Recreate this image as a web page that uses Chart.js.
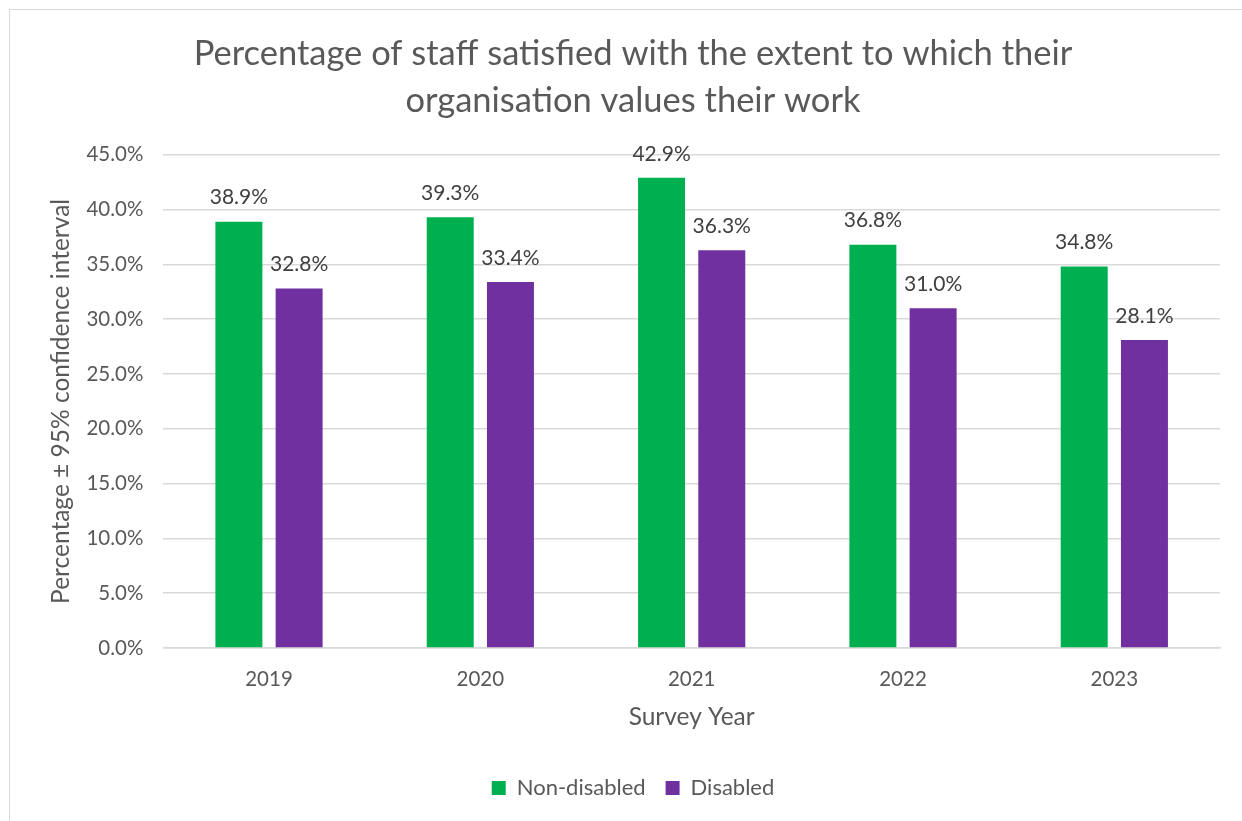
<!DOCTYPE html>
<html>
<head>
<meta charset="utf-8">
<script src="https://cdn.jsdelivr.net/npm/chart.js@4.4.0/dist/chart.umd.min.js"></script>
<style>
  html, body { margin: 0; padding: 0; background: #fff; overflow: hidden; }
  #wrap { position: absolute; left: 0; top: 0; width: 1242px; height: 821px; }
  #frame { position: absolute; left: 9px; top: 9px; width: 1300px; height: 900px;
           border: 1px solid #d9d9d9; pointer-events: none; }
</style>
</head>
<body>
<div id="wrap"><canvas id="chart" width="1242" height="821"></canvas></div>
<div id="frame"></div>
<script>
// survey years and satisfaction percentages
const years = ['2019', '2020', '2021', '2022', '2023'];
const nonDisabled = [38.9, 39.3, 42.9, 36.8, 34.8];
const disabled = [32.8, 33.4, 36.3, 31.0, 28.1];
const yTicks = [0, 5, 10, 15, 20, 25, 30, 35, 40, 45];

const FONT = 'Lato, "Open Sans", sans-serif';

// writes the value above each bar
const barLabels = {
  id: 'barLabels',
  afterDatasetsDraw(chart) {
    const ctx = chart.ctx;
    ctx.save();
    ctx.font = '21px ' + FONT;
    ctx.fillStyle = '#404040';
    ctx.textAlign = 'center';
    ctx.textBaseline = 'middle';
    chart.data.datasets.forEach((ds, i) => {
      chart.getDatasetMeta(i).data.forEach((bar, j) => {
        ctx.fillText(ds.data[j].toFixed(1) + '%', bar.x, bar.y - 24);
      });
    });
    ctx.restore();
  }
};

new Chart(document.getElementById('chart'), {
  type: 'bar',
  data: {
    labels: years,
    datasets: [
      { label: 'Non-disabled', data: nonDisabled, backgroundColor: '#00b050',
        categoryPercentage: 0.57, barPercentage: 0.78 },
      { label: 'Disabled', data: disabled, backgroundColor: '#7030a0',
        categoryPercentage: 0.57, barPercentage: 0.78 }
    ]
  },
  options: {
    responsive: false,
    animation: false,
    layout: { padding: { left: 46, right: 22, top: 24, bottom: 12 } },
    plugins: {
      title: {
        display: true,
        text: ['Percentage of staff satisfied with the extent to which their',
               'organisation values their work'],
        color: '#595959',
        font: { family: FONT, size: 34.5, weight: 'normal', lineHeight: 1.36 },
        padding: { top: 6, bottom: 31 }
      },
      legend: {
        position: 'bottom',
        labels: {
          color: '#595959',
          font: { family: FONT, size: 22 },
          boxWidth: 14, boxHeight: 14, padding: 20
        }
      },
      tooltip: { enabled: false }
    },
    scales: {
      x: {
        grid: { display: false },
        border: { color: '#d9d9d9', width: 1.5 },
        ticks: { color: '#595959', font: { family: FONT, size: 20.5 }, padding: 11 },
        title: { display: true, text: 'Survey Year', color: '#595959',
                 font: { family: FONT, size: 24.5 }, padding: { top: 0, bottom: 25 } }
      },
      y: {
        min: 0, max: 45,
        afterBuildTicks(axis) { axis.ticks = yTicks.map(v => ({ value: v })); },
        grid: { color: '#d9d9d9', lineWidth: 1.5, drawTicks: false },
        border: { display: false },
        ticks: { color: '#595959', font: { family: FONT, size: 20.5 }, padding: 20,
                 callback: v => v.toFixed(1) + '%' },
        title: { display: true, text: 'Percentage ± 95% confidence interval', color: '#595959',
                 font: { family: FONT, size: 24.5 }, padding: { top: 0, bottom: -9 } }
      }
    }
  },
  plugins: [barLabels]
});
</script>
</body>
</html>
